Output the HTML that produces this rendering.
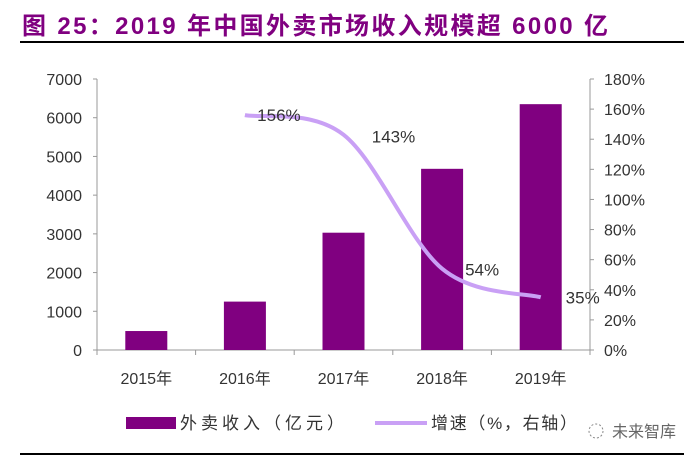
<!DOCTYPE html>
<html><head><meta charset="utf-8"><style>
body{margin:0;width:700px;height:460px;background:#fff;overflow:hidden;font-family:"Liberation Sans","Noto Sans CJK SC",sans-serif}
</style></head><body>
<svg width="700" height="460" xmlns="http://www.w3.org/2000/svg">
<text x="22" y="34" font-size="24" font-weight="bold" fill="#800080" textLength="586" lengthAdjust="spacing" font-family="Liberation Sans, Noto Sans CJK SC, sans-serif">图 25：2019 年中国外卖市场收入规模超 6000 亿</text>
<rect x="20" y="41" width="664" height="2" fill="#000"/>
<rect x="20" y="453" width="664" height="2" fill="#000"/>
<g id="plot"></g>
<g>
<rect x="126" y="417" width="50" height="12" fill="#800080"/>
<text x="180" y="429" font-size="17" fill="#333" textLength="164" lengthAdjust="spacing">外卖收入（亿元）</text>
<rect x="375" y="421" width="52" height="4" fill="#c9a0f5"/>
<text x="431" y="429" font-size="17" fill="#333" textLength="146" lengthAdjust="spacing">增速（%，右轴）</text>
</g>
<text x="612" y="437" font-size="16" fill="#666">未来智库</text>
<circle cx="596" cy="431" r="7" fill="none" stroke="#888" stroke-dasharray="2 2"/>
</svg>
<script>
const categories=["2015年","2016年","2017年","2018年","2019年"];
const revenue=[490,1250,3030,4680,6350];
const growth=[null,156,143,54,35];
const growthLabels=["","156%","143%","54%","35%"];
const leftTicks=[0,1000,2000,3000,4000,5000,6000,7000];
const rightTicks=[0,20,40,60,80,100,120,140,160,180];
const NS="http://www.w3.org/2000/svg";
const g=document.getElementById('plot');
const X0=97,X1=590,Y0=350,Y1=79;
const step=(X1-X0)/categories.length;
const xc=i=>X0+step*(i+0.5);
const yL=v=>Y0-(v/7000)*(Y0-Y1);
const yR=v=>Y0-(v/180)*(Y0-Y1);
function mk(t,a){const e=document.createElementNS(NS,t);for(const k in a)e.setAttribute(k,a[k]);g.appendChild(e);return e;}
let e;
e=mk('line',{x1:X0,y1:Y1,x2:X0,y2:Y0,stroke:'#999'});


e=mk('line',{x1:X1,y1:Y1,x2:X1,y2:Y0,stroke:'#999'});


e=mk('line',{x1:X0,y1:Y0,x2:X1,y2:Y0,stroke:'#999'});


leftTicks.forEach(v=>{
 mk('line',{x1:X0-4,y1:yL(v),x2:X0,y2:yL(v),stroke:'#999'});
 e=mk('text',{x:82,y:yL(v)+6,'text-anchor':'end','font-size':16,fill:'#333'});e.textContent=v;
 
 
});
rightTicks.forEach(v=>{
 mk('line',{x1:X1,y1:yR(v),x2:X1+4,y2:yR(v),stroke:'#999'});
 e=mk('text',{x:604,y:yR(v)+6,'font-size':16,fill:'#333'});e.textContent=v+'%';
 
 
});
for(let i=0;i<=categories.length;i++){mk('line',{x1:X0+step*i,y1:Y0,x2:X0+step*i,y2:Y0+5,stroke:'#999'});}
categories.forEach((c,i)=>{
 e=mk('rect',{x:xc(i)-21,y:yL(revenue[i]),width:42,height:Y0-yL(revenue[i]),fill:'#800080'});
 
 
 e=mk('text',{x:xc(i),y:384,'text-anchor':'middle','font-size':16,fill:'#333'});e.textContent=c;
 
 
});
const pts=[];growth.forEach((v,i)=>{if(v!=null)pts.push([xc(i),yR(v)]);});
let d='M'+pts[0][0]+','+pts[0][1];
for(let i=0;i<pts.length-1;i++){
 const p0=pts[Math.max(0,i-1)],p1=pts[i],p2=pts[i+1],p3=pts[Math.min(pts.length-1,i+2)];
 const c1=[p1[0]+(p2[0]-p0[0])/6,p1[1]+(p2[1]-p0[1])/6],c2=[p2[0]-(p3[0]-p1[0])/6,p2[1]-(p3[1]-p1[1])/6];
 d+=` C${c1[0]},${c1[1]} ${c2[0]},${c2[1]} ${p2[0]},${p2[1]}`;
}
e=mk('path',{d:d,fill:'none',stroke:'#c9a0f5','stroke-width':4});


const off=[[0,0],[34,0],[50,2],[40,1],[42,0]];
growth.forEach((v,i)=>{if(v==null)return;
 e=mk('text',{x:xc(i)+off[i][0],y:yR(v)+6+off[i][1],'text-anchor':'middle','font-size':17,fill:'#333'});
 e.textContent=growthLabels[i];
 
 
});
</script>
</body></html>
